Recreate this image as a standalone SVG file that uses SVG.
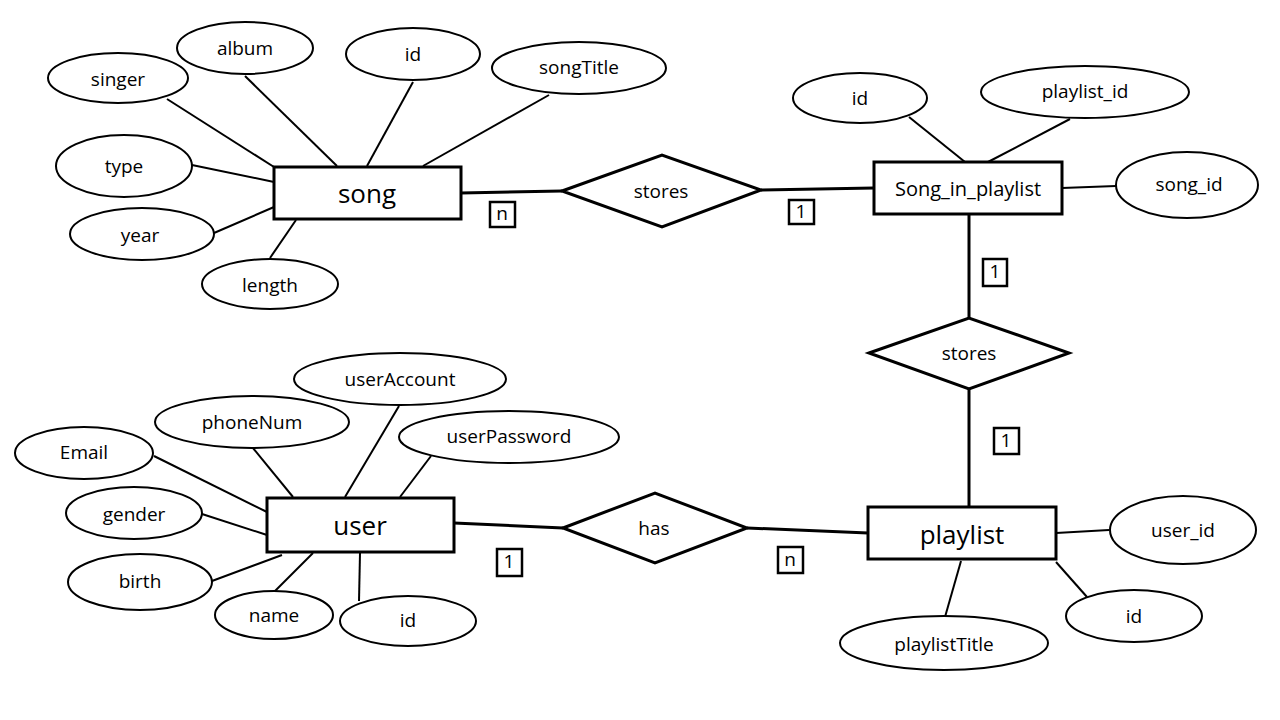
<svg xmlns="http://www.w3.org/2000/svg" width="1280" height="720" viewBox="0 0 1280 720">
<style>
text{font-family:"Open Sans","Liberation Sans",sans-serif;fill:#000;text-anchor:middle;dominant-baseline:central}
.attr ellipse{fill:#fff;stroke:#000;stroke-width:2}
.attr text{font-size:19px}
.ent rect{fill:#fff;stroke:#000;stroke-width:3}
.ent text{font-size:26px}
.rel polygon{fill:#fff;stroke:#000;stroke-width:3}
.rel text{font-size:19px}
.card rect{fill:#fff;stroke:#000;stroke-width:2.5}
.card text{font-size:19px}
.thin{stroke:#000;stroke-width:2;fill:none}
.thick{stroke:#000;stroke-width:3;fill:none}
</style>
<rect width="1280" height="720" fill="#fff"/>
<g id="connectors">
<line class="thin" x1="167" y1="99" x2="274" y2="167"/>
<line class="thin" x1="245" y1="76" x2="337" y2="166"/>
<line class="thin" x1="413" y1="82" x2="367" y2="166"/>
<line class="thin" x1="549" y1="95" x2="423" y2="166"/>
<line class="thin" x1="192" y1="165" x2="274" y2="182"/>
<line class="thin" x1="214" y1="233" x2="274" y2="207"/>
<line class="thin" x1="270" y1="258" x2="296" y2="220"/>
<line class="thick" x1="461" y1="193" x2="562" y2="191"/>
<line class="thick" x1="761" y1="190" x2="874" y2="188"/>
<line class="thin" x1="909" y1="117" x2="965" y2="162"/>
<line class="thin" x1="1070" y1="119" x2="988" y2="162"/>
<line class="thin" x1="1062" y1="188" x2="1116" y2="186"/>
<line class="thick" x1="969" y1="214" x2="969" y2="318"/>
<line class="thick" x1="969" y1="389" x2="969" y2="507"/>
<line class="thick" x1="454" y1="523" x2="563" y2="528"/>
<line class="thick" x1="747" y1="528" x2="868" y2="533"/>
<line class="thin" x1="1056" y1="533" x2="1109" y2="530"/>
<line class="thin" x1="1056" y1="562" x2="1087" y2="597"/>
<line class="thin" x1="961" y1="561" x2="945" y2="617"/>
<line class="thin" x1="399" y1="406" x2="345" y2="497"/>
<line class="thin" x1="253" y1="448" x2="293" y2="497"/>
<line class="thin" x1="431" y1="456" x2="400" y2="497"/>
<line class="thin" x1="154" y1="456" x2="267" y2="512"/>
<line class="thin" x1="202" y1="514" x2="267" y2="535"/>
<line class="thin" x1="212" y1="581" x2="282" y2="555"/>
<line class="thin" x1="275" y1="591" x2="313" y2="553"/>
<line class="thin" x1="360" y1="553" x2="359" y2="601"/>
</g>
<g id="song" class="ent"><rect x="274" y="167" width="187" height="52"/><text x="367" y="193">song</text></g>
<g id="song_singer" class="attr"><ellipse cx="118" cy="78" rx="70" ry="25"/><text x="118" y="79">singer</text></g>
<g id="song_album" class="attr"><ellipse cx="245" cy="48" rx="68" ry="26"/><text x="245" y="48">album</text></g>
<g id="song_id" class="attr"><ellipse cx="413" cy="54" rx="67" ry="26"/><text x="413" y="54">id</text></g>
<g id="song_songTitle" class="attr"><ellipse cx="579" cy="68" rx="87" ry="26"/><text x="579" y="67">songTitle</text></g>
<g id="song_type" class="attr"><ellipse cx="124" cy="166" rx="68" ry="31"/><text x="124" y="166">type</text></g>
<g id="song_year" class="attr"><ellipse cx="142" cy="234" rx="72" ry="26"/><text x="140" y="235">year</text></g>
<g id="song_length" class="attr"><ellipse cx="270" cy="284" rx="68" ry="25"/><text x="270" y="285">length</text></g>
<g id="stores1" class="rel"><polygon points="562,191 662,155 761,190 662,227"/><text x="661" y="191">stores</text></g>
<g id="card_n1" class="card"><rect x="490" y="202" width="25" height="25"/><text x="502" y="213">n</text></g>
<g id="card_11" class="card"><rect x="789" y="200" width="25" height="24"/><text x="801" y="211">1</text></g>
<g id="song_in_playlist" class="ent"><rect x="874" y="162" width="188" height="52"/><text x="968" y="188" style="font-size:20px">Song_in_playlist</text></g>
<g id="sip_id" class="attr"><ellipse cx="860" cy="98" rx="67" ry="25"/><text x="860" y="98">id</text></g>
<g id="sip_playlist_id" class="attr"><ellipse cx="1085" cy="92" rx="104" ry="26"/><text x="1085" y="91">playlist_id</text></g>
<g id="sip_song_id" class="attr"><ellipse cx="1187" cy="185" rx="71" ry="33"/><text x="1189" y="184">song_id</text></g>
<g id="card_12" class="card"><rect x="983" y="259" width="24" height="27"/><text x="995" y="271">1</text></g>
<g id="stores2" class="rel"><polygon points="869,353 969,318 1069,353 969,389"/><text x="969" y="353">stores</text></g>
<g id="card_13" class="card"><rect x="994" y="428" width="25" height="26"/><text x="1006" y="440">1</text></g>
<g id="playlist" class="ent"><rect x="868" y="507" width="188" height="52"/><text x="962" y="534">playlist</text></g>
<g id="pl_user_id" class="attr"><ellipse cx="1183" cy="530" rx="73" ry="34"/><text x="1183" y="530">user_id</text></g>
<g id="pl_id" class="attr"><ellipse cx="1134" cy="616" rx="68" ry="26"/><text x="1134" y="616">id</text></g>
<g id="pl_playlistTitle" class="attr"><ellipse cx="944" cy="643" rx="104" ry="27"/><text x="944" y="644">playlistTitle</text></g>
<g id="has" class="rel"><polygon points="563,528 655,493 747,528 655,563"/><text x="654" y="528">has</text></g>
<g id="card_n2" class="card"><rect x="778" y="547" width="25" height="26"/><text x="790" y="559">n</text></g>
<g id="card_14" class="card"><rect x="497" y="549" width="25" height="27"/><text x="509" y="561">1</text></g>
<g id="user" class="ent"><rect x="267" y="498" width="187" height="54"/><text x="360" y="525">user</text></g>
<g id="user_userAccount" class="attr"><ellipse cx="400" cy="379" rx="106" ry="26"/><text x="400" y="379">userAccount</text></g>
<g id="user_phoneNum" class="attr"><ellipse cx="252" cy="422" rx="97" ry="26"/><text x="252" y="422">phoneNum</text></g>
<g id="user_userPassword" class="attr"><ellipse cx="509" cy="437" rx="110" ry="26"/><text x="509" y="436">userPassword</text></g>
<g id="user_Email" class="attr"><ellipse cx="84" cy="453" rx="69" ry="26"/><text x="84" y="452">Email</text></g>
<g id="user_gender" class="attr"><ellipse cx="134" cy="513" rx="68" ry="26"/><text x="134" y="514">gender</text></g>
<g id="user_birth" class="attr"><ellipse cx="140" cy="582" rx="72" ry="28"/><text x="140" y="581">birth</text></g>
<g id="user_name" class="attr"><ellipse cx="274" cy="615" rx="59" ry="24"/><text x="274" y="615">name</text></g>
<g id="user_id" class="attr"><ellipse cx="408" cy="621" rx="68" ry="25"/><text x="408" y="620">id</text></g>
</svg>
